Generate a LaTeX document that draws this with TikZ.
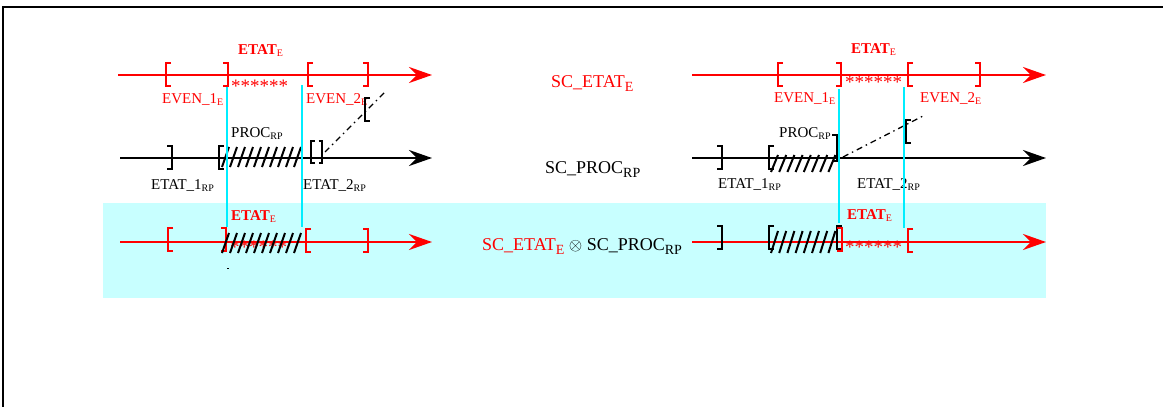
\documentclass[tikz,border=0pt]{standalone}
\usepackage{fontspec}
\setmainfont{Liberation Serif}
\usetikzlibrary{arrows.meta}

\definecolor{aqua}{RGB}{0,238,255}
\definecolor{paleaqua}{RGB}{200,255,255}

\newcommand{\subsm}[1]{\raisebox{-2.5pt}{\mdseries\fontsize{10}{10}\selectfont #1}}
\newcommand{\subbg}[1]{\raisebox{-4pt}{\fontsize{14}{14}\selectfont #1}}

\tikzset{
  lbrk/.pic={\draw[pic actions, line width=2pt] (5,-11.5) -- (0,-11.5) -- (0,11.5) -- (5,11.5);},
  rbrk/.pic={\draw[pic actions, line width=2pt] (-5,-11.5) -- (0,-11.5) -- (0,11.5) -- (-5,11.5);}
}

\begin{document}
\begin{tikzpicture}[x=1pt, y=-1pt,
    axis/.style={line width=2.4pt, -{Stealth[length=23pt, width=16pt, inset=8pt]}},
    timeline/.style={aqua, line width=2.4pt},
    hatch/.style={line width=2pt},
    link/.style={line width=1.3pt, dash pattern=on 6pt off 4pt on 1.5pt off 4pt},
    lab/.style={font=\fontsize{15}{18}\selectfont, anchor=base west, inner sep=0pt},
    head/.style={font=\fontsize{15}{18}\selectfont\bfseries, text=red, anchor=base west, inner sep=0pt},
    big/.style={font=\fontsize{18}{21}\selectfont, anchor=base west, inner sep=0pt},
    stars/.style={font=\fontsize{19}{19}\selectfont, text=red, anchor=base west, inner sep=0pt}
]
\useasboundingbox (0,0) rectangle (1163,407);
\fill[paleaqua] (103,203) rectangle (1046,298);
\draw[line width=2.5pt] (3,407) -- (3,7) -- (1163,7);

% left: SC_ETAT_E
\draw[axis, red] (118,75) -- (432,75);
\pic[red] at (166,74) {lbrk};
\pic[red] at (228,74) {rbrk};
\pic[red] at (308,74) {lbrk};
\pic[red] at (368,74) {rbrk};
\node[stars] (starsA) at (231,92) {******};
\node[head] (etatA) at (238,54) {ETAT\subsm{E}};
\node[lab, text=red] (evenA1) at (162,103) {EVEN\_1\subsm{E}};
\node[lab, text=red] (evenA2) at (306,103) {EVEN\_2\subsm{E}};

% left: SC_PROC_RP
\draw[axis] (120,158) -- (432,158);
\pic at (172,157) {rbrk};
\pic at (219,157) {lbrk};
\foreach \i in {0,...,9}
  \draw[hatch] (222+8*\i,167) -- ++(7,-20);
\pic[yscale=0.92, xscale=0.7] at (311,152) {lbrk};
\pic[yscale=0.92, xscale=0.7] at (322,152) {rbrk};
\pic at (365,109) {lbrk};
\coordinate (linkA1) at (325,152);
\coordinate (linkA2) at (386,91);
\draw[link] (linkA1) -- (linkA2);
\node[lab] (procA) at (231,137) {PROC\subsm{RP}};
\node[lab] (etatA1) at (151,189) {ETAT\_1\subsm{RP}};
\node[lab] (etatA2) at (303,189) {ETAT\_2\subsm{RP}};

% left: product
\draw[axis, red] (120,242) -- (432,242);
\pic[red] at (168,239) {lbrk};
\pic[red] at (226,239) {rbrk};
\pic[red] at (306,240) {lbrk};
\pic[red] at (368,240) {rbrk};
\node[stars] (starsB) at (230,253) {******};
\foreach \i in {0,...,9}
  \draw[hatch] (222+8*\i,253) -- ++(7,-20);
\node[head] (etatB) at (231,220) {ETAT\subsm{E}};
\draw[line width=1pt] (227,268) -- (229,268);

% centre labels
\node[big, text=red] (scE) at (551,87) {SC\_ETAT\subbg{E}};
\node[big] (scP) at (545,173) {SC\_PROC\subbg{RP}};
\node[big] (scEP) at (482,250) {\textcolor{red}{SC\_ETAT\subbg{E}} $\otimes$ SC\_PROC\subbg{RP}};

% right: SC_ETAT_E
\draw[axis, red] (692,75) -- (1046,75);
\pic[red] at (778,74) {lbrk};
\pic[red] at (841,74) {rbrk};
\pic[red] at (908,74) {lbrk};
\pic[red] at (980,74) {rbrk};
\node[stars] (starsC) at (845,88) {******};
\node[head] (etatC) at (851,53) {ETAT\subsm{E}};
\node[lab, text=red] (evenC1) at (774,102) {EVEN\_1\subsm{E}};
\node[lab, text=red] (evenC2) at (920,102) {EVEN\_2\subsm{E}};

% right: SC_PROC_RP
\draw[axis] (692,158) -- (1046,158);
\pic at (722,157) {rbrk};
\pic at (769,157) {lbrk};
\foreach \i in {0,...,7}
  \draw[hatch] (771+8.2*\i,172) -- ++(7,-17);
\pic[yscale=1.1] at (837,148) {rbrk};
\pic at (906,131) {lbrk};
\coordinate (linkC1) at (843,157);
\coordinate (linkC2) at (923,116);
\draw[link] (linkC1) -- (linkC2);
\node[lab] (procC) at (779,137) {PROC\subsm{RP}};
\node[lab] (etatC1) at (718,188) {ETAT\_1\subsm{RP}};
\node[lab] (etatC2) at (857,188) {ETAT\_2\subsm{RP}};

% right: product
\draw[axis, red] (692,242) -- (1046,242);
\pic at (722,237) {rbrk};
\pic at (769,237) {lbrk};
\foreach \i in {0,...,7}
  \draw[hatch] (771+8.2*\i,253) -- ++(7,-22);
\pic at (837,237) {lbrk};
\pic[red] at (842,239) {rbrk};
\node[stars] (starsD) at (845,253) {******};
\pic[red] at (908,240) {lbrk};
\node[head] (etatD) at (847,219) {ETAT\subsm{E}};

% event marks
\draw[timeline] (227,87) -- (227,227);
\draw[timeline] (302,85) -- (302,227);
\draw[timeline] (839,89) -- (839,223);
\draw[timeline] (904,87) -- (904,228);
\end{tikzpicture}
\end{document}
